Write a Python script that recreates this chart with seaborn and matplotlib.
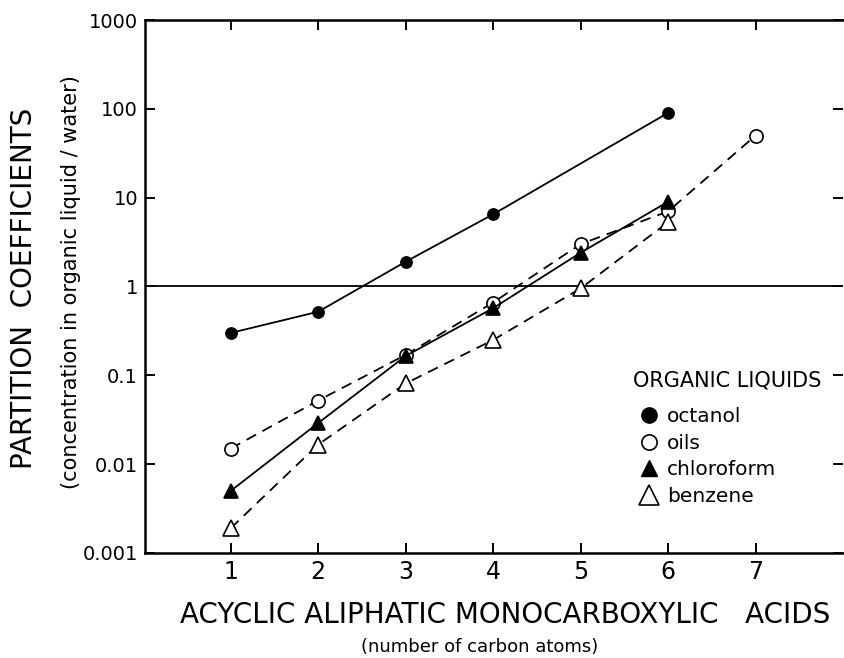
import matplotlib
matplotlib.use("Agg")
import matplotlib.pyplot as plt
from matplotlib.lines import Line2D
import seaborn as sns
import pandas as pd

sns.set_theme(style="white")
plt.rcParams['font.family'] = ['DejaVu Sans']
plt.rcParams['text.color'] = 'black'

# ---- data ----
carbons = [1, 2, 3, 4, 5, 6, 7]
octanol_x = [1, 2, 3, 4, 6]
octanol = [0.30, 0.52, 1.9, 6.5, 90]
oils_x = [1, 2, 3, 4, 5, 6, 7]
oils = [0.015, 0.052, 0.17, 0.66, 3.0, 7.0, 50]
chloroform_x = [1, 2, 3, 4, 5, 6]
chloroform = [0.005, 0.029, 0.165, 0.57, 2.4, 9.0]
benzene_x = [1, 2, 3, 4, 5, 6]
benzene = [0.0019, 0.0166, 0.081, 0.25, 0.95, 5.3]
ytick_vals = [0.001, 0.01, 0.1, 1, 10, 100, 1000]
ytick_labels = ["0.001", "0.01", "0.1", "1", "10", "100", "1000"]
legend_labels = ["octanol", "oils", "chloroform", "benzene"]

fig = plt.figure(figsize=(8.45, 6.58), dpi=100)
ax = fig.add_axes([0.1716, 0.1596, 0.8260, 0.8100])

dash = (6, 4)
series = [
    ("octanol", octanol_x, octanol, dict(marker='o', markerfacecolor='black', markersize=8), '-'),
    ("oils", oils_x, oils, dict(marker='o', markerfacecolor='white', markersize=9.5), dash),
    ("chloroform", chloroform_x, chloroform, dict(marker='^', markerfacecolor='black', markersize=10), '-'),
    ("benzene", benzene_x, benzene, dict(marker='^', markerfacecolor='white', markersize=12), dash),
]
for name, xs, ys, mk, ls in series:
    df = pd.DataFrame({"x": xs, "y": ys})
    kw = dict(color='black', linewidth=1.3, markeredgecolor='black', markeredgewidth=1.2, **mk)
    if ls == '-':
        kw['linestyle'] = '-'
    else:
        kw['dashes'] = ls
    sns.lineplot(data=df, x="x", y="y", ax=ax, sort=False, estimator=None, legend=False, **kw)

ax.axhline(1, color='black', linewidth=1.3, zorder=1)

ax.set_yscale('log')
ax.set_ylim(0.001, 1000)
ax.set_xlim(0.02, 8.0)
ax.set_yticks(ytick_vals)
ax.set_yticklabels(ytick_labels, fontsize=14)
ax.minorticks_off()
ax.set_xticks(carbons)
ax.set_xticklabels([str(c) for c in carbons], fontsize=17)

for s in ['left', 'bottom', 'top']:
    ax.spines[s].set_visible(True)
    ax.spines[s].set_color('black')
    ax.spines[s].set_linewidth(1.8)
ax.spines['right'].set_visible(False)

ax.tick_params(axis='both', which='major', direction='in', length=7, width=1.4,
               colors='black', top=True, right=True, left=True, bottom=True)
ax.tick_params(axis='y', pad=5)
ax.tick_params(axis='x', pad=5)

ax.set_xlabel("")
ax.set_ylabel("")

fig.text(0.598, 0.065, "ACYCLIC ALIPHATIC MONOCARBOXYLIC   ACIDS", fontsize=20,
         ha='center', va='center', color='black')
fig.text(0.568, 0.016, "(number of carbon atoms)", fontsize=13, ha='center', va='center',
         color='black')
fig.text(0.028, 0.562, "PARTITION  COEFFICIENTS", fontsize=20, rotation=90,
         ha='center', va='center', color='black')
fig.text(0.084, 0.571, "(concentration in organic liquid / water)", fontsize=15, rotation=90,
         ha='center', va='center', color='black')

# legend title
ax.text(0.699, 0.323, "ORGANIC LIQUIDS", transform=ax.transAxes, fontsize=15,
        ha='left', va='center', color='black')

handles = [
    Line2D([], [], linestyle='none', marker='o', markerfacecolor='black', markeredgecolor='black', markersize=11),
    Line2D([], [], linestyle='none', marker='o', markerfacecolor='white', markeredgecolor='black', markersize=11, markeredgewidth=1.2),
    Line2D([], [], linestyle='none', marker='^', markerfacecolor='black', markeredgecolor='black', markersize=12),
    Line2D([], [], linestyle='none', marker='^', markerfacecolor='white', markeredgecolor='black', markersize=14, markeredgewidth=1.2),
]
leg = ax.legend(handles, legend_labels,
                loc='upper left', bbox_to_anchor=(0.699, 0.274), frameon=False,
                fontsize=14.5, handlelength=1.6, handletextpad=0.1,
                labelspacing=0.38, borderpad=0.0, borderaxespad=0.0, labelcolor='black')

fig.savefig("out.png", dpi=100)
